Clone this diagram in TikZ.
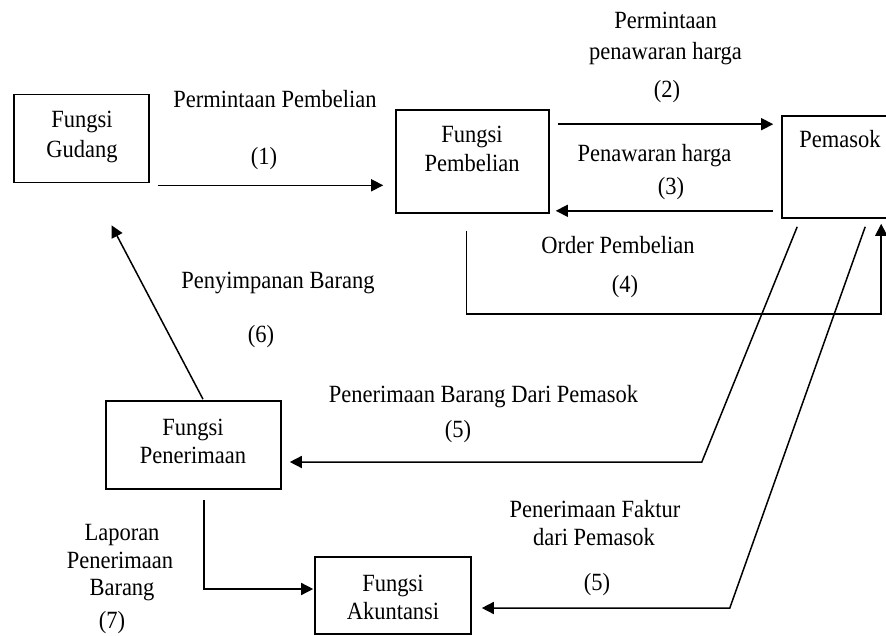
\documentclass[tikz,border=0pt]{standalone}
\usepackage{fontspec}
\setmainfont{Liberation Serif}
\usetikzlibrary{arrows.meta,calc}
\begin{document}
\begin{tikzpicture}[x=1pt,y=-1pt,
  every node/.style={font=\fontsize{22.5}{28}\selectfont, inner sep=0pt},
  box/.style={draw, line width=1.6pt, rectangle},
  lbl/.style={anchor=base, yscale=1.1},
  arr/.style={line width=1.5pt, -{Triangle[length=12pt,width=12pt]}},
  ln/.style={line width=1.5pt}]
\useasboundingbox (0,0) rectangle (886,636);
\clip (0,0) rectangle (886,636);
% boxes
\node[box, minimum width=135pt, minimum height=88pt] (gd) at (81.5,138.5) {};
\node[box, minimum width=153pt, minimum height=103pt] (pb) at (472.5,161.5) {};
\node[box, minimum width=114pt, minimum height=102pt] (pm) at (839,167) {};
\node[box, minimum width=175pt, minimum height=88pt] (pn) at (193.5,445) {};
\node[box, minimum width=156pt, minimum height=77pt] (ak) at (393,595.5) {};
% box texts
\node[lbl] (tgd1) at (82,128) {Fungsi};
\node[lbl] (tgd2) at (82,158) {Gudang};
\node[lbl] (tpb1) at (472,143) {Fungsi};
\node[lbl] (tpb2) at (472,172) {Pembelian};
\node[lbl] (tpm) at (840,148) {Pemasok};
\node[lbl] (tpn1) at (193,435) {Fungsi};
\node[lbl] (tpn2) at (193,463) {Penerimaan};
\node[lbl] (tak1) at (393,591) {Fungsi};
\node[lbl] (tak2) at (393,619) {Akuntansi};
% connectors
\draw[arr] ($(gd.south east)+(8,2)$) -- ($(gd.south east -| pb.west)+(-12,2)$);
\draw[arr] ($(pb.north east)+(8,15)$) -- ($(pb.north east -| pm.west)+(-8,15)$);
\draw[arr] ($(pb.south east -| pm.west)+(-8,-3)$) -- ($(pb.south east)+(6,-3)$);
\draw[arr] ($(pb.south)+(-6,17)$) |- ($(pm.south west)+(100,95)$) -- ($(pm.south west)+(100,5)$);
\draw[arr] ($(pm.south west)+(16,8)$) -- ($(pn.east)+(420,17)$) -- ($(pn.east)+(8,17)$);
\draw[arr] ($(pm.south west)+(84,8)$) -- ($(ak.east)+(258,12.5)$) -- ($(ak.east)+(10,12.5)$);
\draw[arr] ($(pn.north)+(9.5,-1)$) -- ($(gd.south)+(30,42)$);
\draw[arr] ($(pn.south)+(10.5,10)$) |- ($(ak.west)+(-1,-6.5)$);
% labels
\node[lbl] (l1a) at (275,108) {Permintaan Pembelian};
\node[lbl] (l1b) at (264,165) {(1)};
\node[lbl] (l2a) at (665.5,29) {Permintaan};
\node[lbl] (l2b) at (665.5,60) {penawaran harga};
\node[lbl] (l2c) at (667,98) {(2)};
\node[lbl] (l3a) at (654.5,162) {Penawaran harga};
\node[lbl] (l3b) at (671,195) {(3)};
\node[lbl] (l4a) at (618,254) {Order Pembelian};
\node[lbl] (l4b) at (625,293) {(4)};
\node[lbl] (l6a) at (278,289) {Penyimpanan Barang};
\node[lbl] (l6b) at (261,342) {(6)};
\node[lbl] (l5a) at (483.5,402) {Penerimaan Barang Dari Pemasok};
\node[lbl] (l5b) at (458,437) {(5)};
\node[lbl] (l7a) at (122,540) {Laporan};
\node[lbl] (l7b) at (120,568) {Penerimaan};
\node[lbl] (l7c) at (122,595) {Barang};
\node[lbl] (l7d) at (112,628) {(7)};
\node[lbl] (l8a) at (595,517) {Penerimaan Faktur};
\node[lbl] (l8b) at (594,545) {dari Pemasok};
\node[lbl] (l8c) at (597,590) {(5)};
\end{tikzpicture}
\end{document}
